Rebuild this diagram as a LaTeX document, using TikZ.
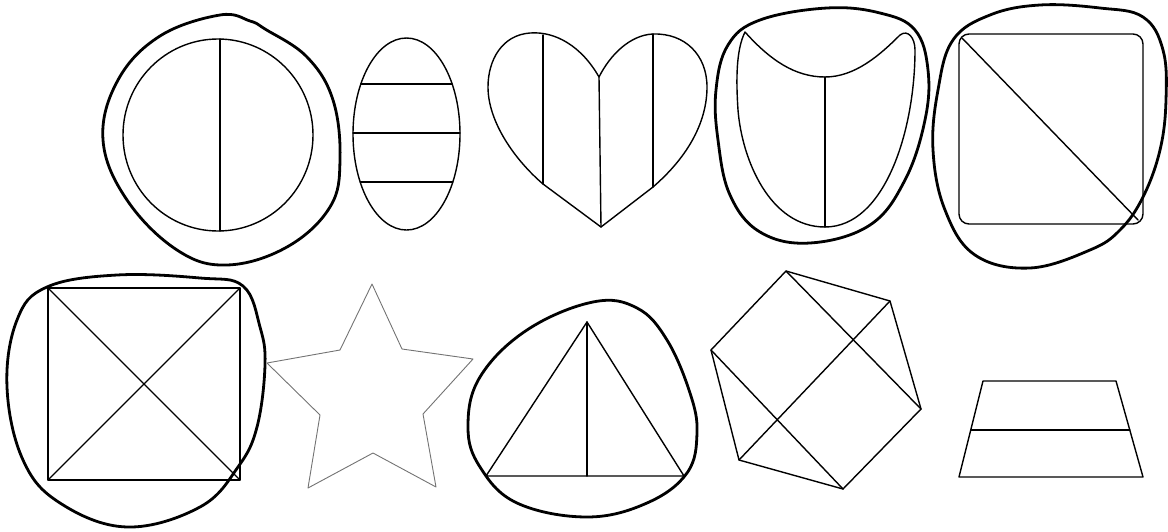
\documentclass[tikz,border=0pt]{standalone}
\tikzset{
  outline/.style={line width=2.8pt, line join=round, line cap=round},
  shapeline/.style={line width=1.4pt, line join=round, line cap=round},
  faint/.style={line width=0.9pt, black!55, line join=round},
}
\begin{document}
\begin{tikzpicture}[x=1pt,y=-1pt]
\useasboundingbox (0,0) rectangle (1168,531);

% ---- 1: circle in loop
\draw[outline] plot[smooth cycle, tension=0.65] coordinates {(220,15) (250,21) (265,29) (307,57) (333,100) (340,160) (330,207) (287,247) (227,265) (177,250) (127,200) (103,140) (118,80) (160,36)};
\draw[shapeline] (218,135) ellipse (95 and 96);
\coordinate (c1t) at (220,39); \coordinate (c1b) at (220,231);
\draw[shapeline] (c1t) -- (c1b);

% ---- 2: striped ellipse
\draw[shapeline] (406.5,134) ellipse (53.5 and 96);
\draw[shapeline] (360.8,84) -- (452.2,84);
\draw[shapeline] (353,133) -- (460,133);
\draw[shapeline] (360.2,182) -- (452.8,182);

% ---- 3: heart
\coordinate (hn) at (599,77); \coordinate (hb) at (601,227);
\coordinate (hl) at (543,184); \coordinate (hr) at (653,187);
\draw[shapeline] (hn) .. controls (582,47) and (556,31) .. (530,33)
  .. controls (502,35) and (488,60) .. (488,87)
  .. controls (488,122) and (515,160) .. (hl) -- (hb) -- (hr)
  .. controls (690,155) and (707,120) .. (707,87)
  .. controls (707,55) and (685,33) .. (653,34)
  .. controls (630,35) and (610,55) .. (hn) -- cycle;
\draw[shapeline] (543,35) -- (hl);
\draw[shapeline] (hn) -- (hb);
\draw[shapeline] (653,34) -- (hr);

% ---- 4: shield in loop
\draw[outline] plot[smooth cycle, tension=0.65] coordinates {(827,8) (880,13) (915,30) (928,70) (925,120) (905,180) (870,225) (810,243) (760,232) (730,195) (718,140) (716,90) (728,45) (760,20)};
\coordinate (s4t) at (825,77); \coordinate (s4b) at (825,227);
\draw[shapeline] (745,32) .. controls (770,60) and (795,77) .. (s4t)
  .. controls (855,77) and (880,55) .. (900,35)
  .. controls (908,29) and (915,38) .. (915,50)
  .. controls (915,130) and (885,227) .. (s4b)
  .. controls (770,227) and (742,160) .. (738,110)
  .. controls (736,80) and (736,50) .. (745,32) -- cycle;
\draw[shapeline] (s4t) -- (s4b);

% ---- 5: rounded square in loop
\draw[outline] plot[smooth cycle, tension=0.65] coordinates {(1040,5) (1100,8) (1143,17) (1163,50) (1166,100) (1160,150) (1143,197) (1120,230) (1090,250) (1030,268) (975,255) (945,210) (933,150) (938,90) (953,40) (990,15)};
\draw[shapeline, rounded corners=10pt] (959,34) rectangle (1143,224);
\coordinate (d5a) at (962,38); \coordinate (d5b) at (1138,220);
\draw[shapeline] (d5a) -- (d5b);

% ---- 6: crossed square in loop
\draw[outline] plot[smooth cycle, tension=0.65] coordinates {(47,287) (117,275) (200,278) (243,286) (260,327) (265,365) (257,427) (238,467) (200,507) (127,527) (60,503) (23,460) (7,387) (17,320)};
\coordinate (q1) at (48,288); \coordinate (q2) at (240,288);
\coordinate (q3) at (240,480); \coordinate (q4) at (48,480);
\draw[shapeline] (q1) -- (q2) -- (q3) -- (q4) -- cycle;
\draw[shapeline] (q1) -- (q3);
\draw[shapeline] (q2) -- (q4);

% ---- 7: star
\draw[faint] (372,284) -- (340,350) -- (267,363) -- (320,415) -- (308,488) -- (373,453) -- (436,487) -- (423,414) -- (473,359) -- (402,349) -- cycle;

% ---- 8: triangle in loop
\draw[outline] plot[smooth cycle, tension=0.65] coordinates {(593,302) (637,308) (667,340) (690,393) (697,433) (687,473) (647,503) (587,517) (517,503) (480,467) (468,427) (480,377) (527,330)};
\coordinate (t1) at (587,322); \coordinate (t2) at (486,476);
\coordinate (t3) at (684,476); \coordinate (t4) at (587,476);
\draw[shapeline] (t1) -- (t2) -- (t3) -- cycle;
\draw[shapeline] (t1) -- (t4);

% ---- 9: hexagon
\coordinate (h1) at (786,271); \coordinate (h2) at (890,301);
\coordinate (h3) at (921,409); \coordinate (h4) at (843,489);
\coordinate (h5) at (739,460); \coordinate (h6) at (711,350);
\draw[shapeline] (h1) -- (h2) -- (h3) -- (h4) -- (h5) -- (h6) -- cycle;
\draw[shapeline] (h1) -- (h3);
\draw[shapeline] (h2) -- (h5);
\draw[shapeline] (h6) -- (h4);

% ---- 10: trapezoid
\coordinate (z1) at (983,381); \coordinate (z2) at (1116,381);
\coordinate (z3) at (1143,477); \coordinate (z4) at (959,477);
\draw[shapeline] (z1) -- (z2) -- (z3) -- (z4) -- cycle;
\draw[shapeline] (970.8,430) -- (1129.8,430);

\end{tikzpicture}
\end{document}
